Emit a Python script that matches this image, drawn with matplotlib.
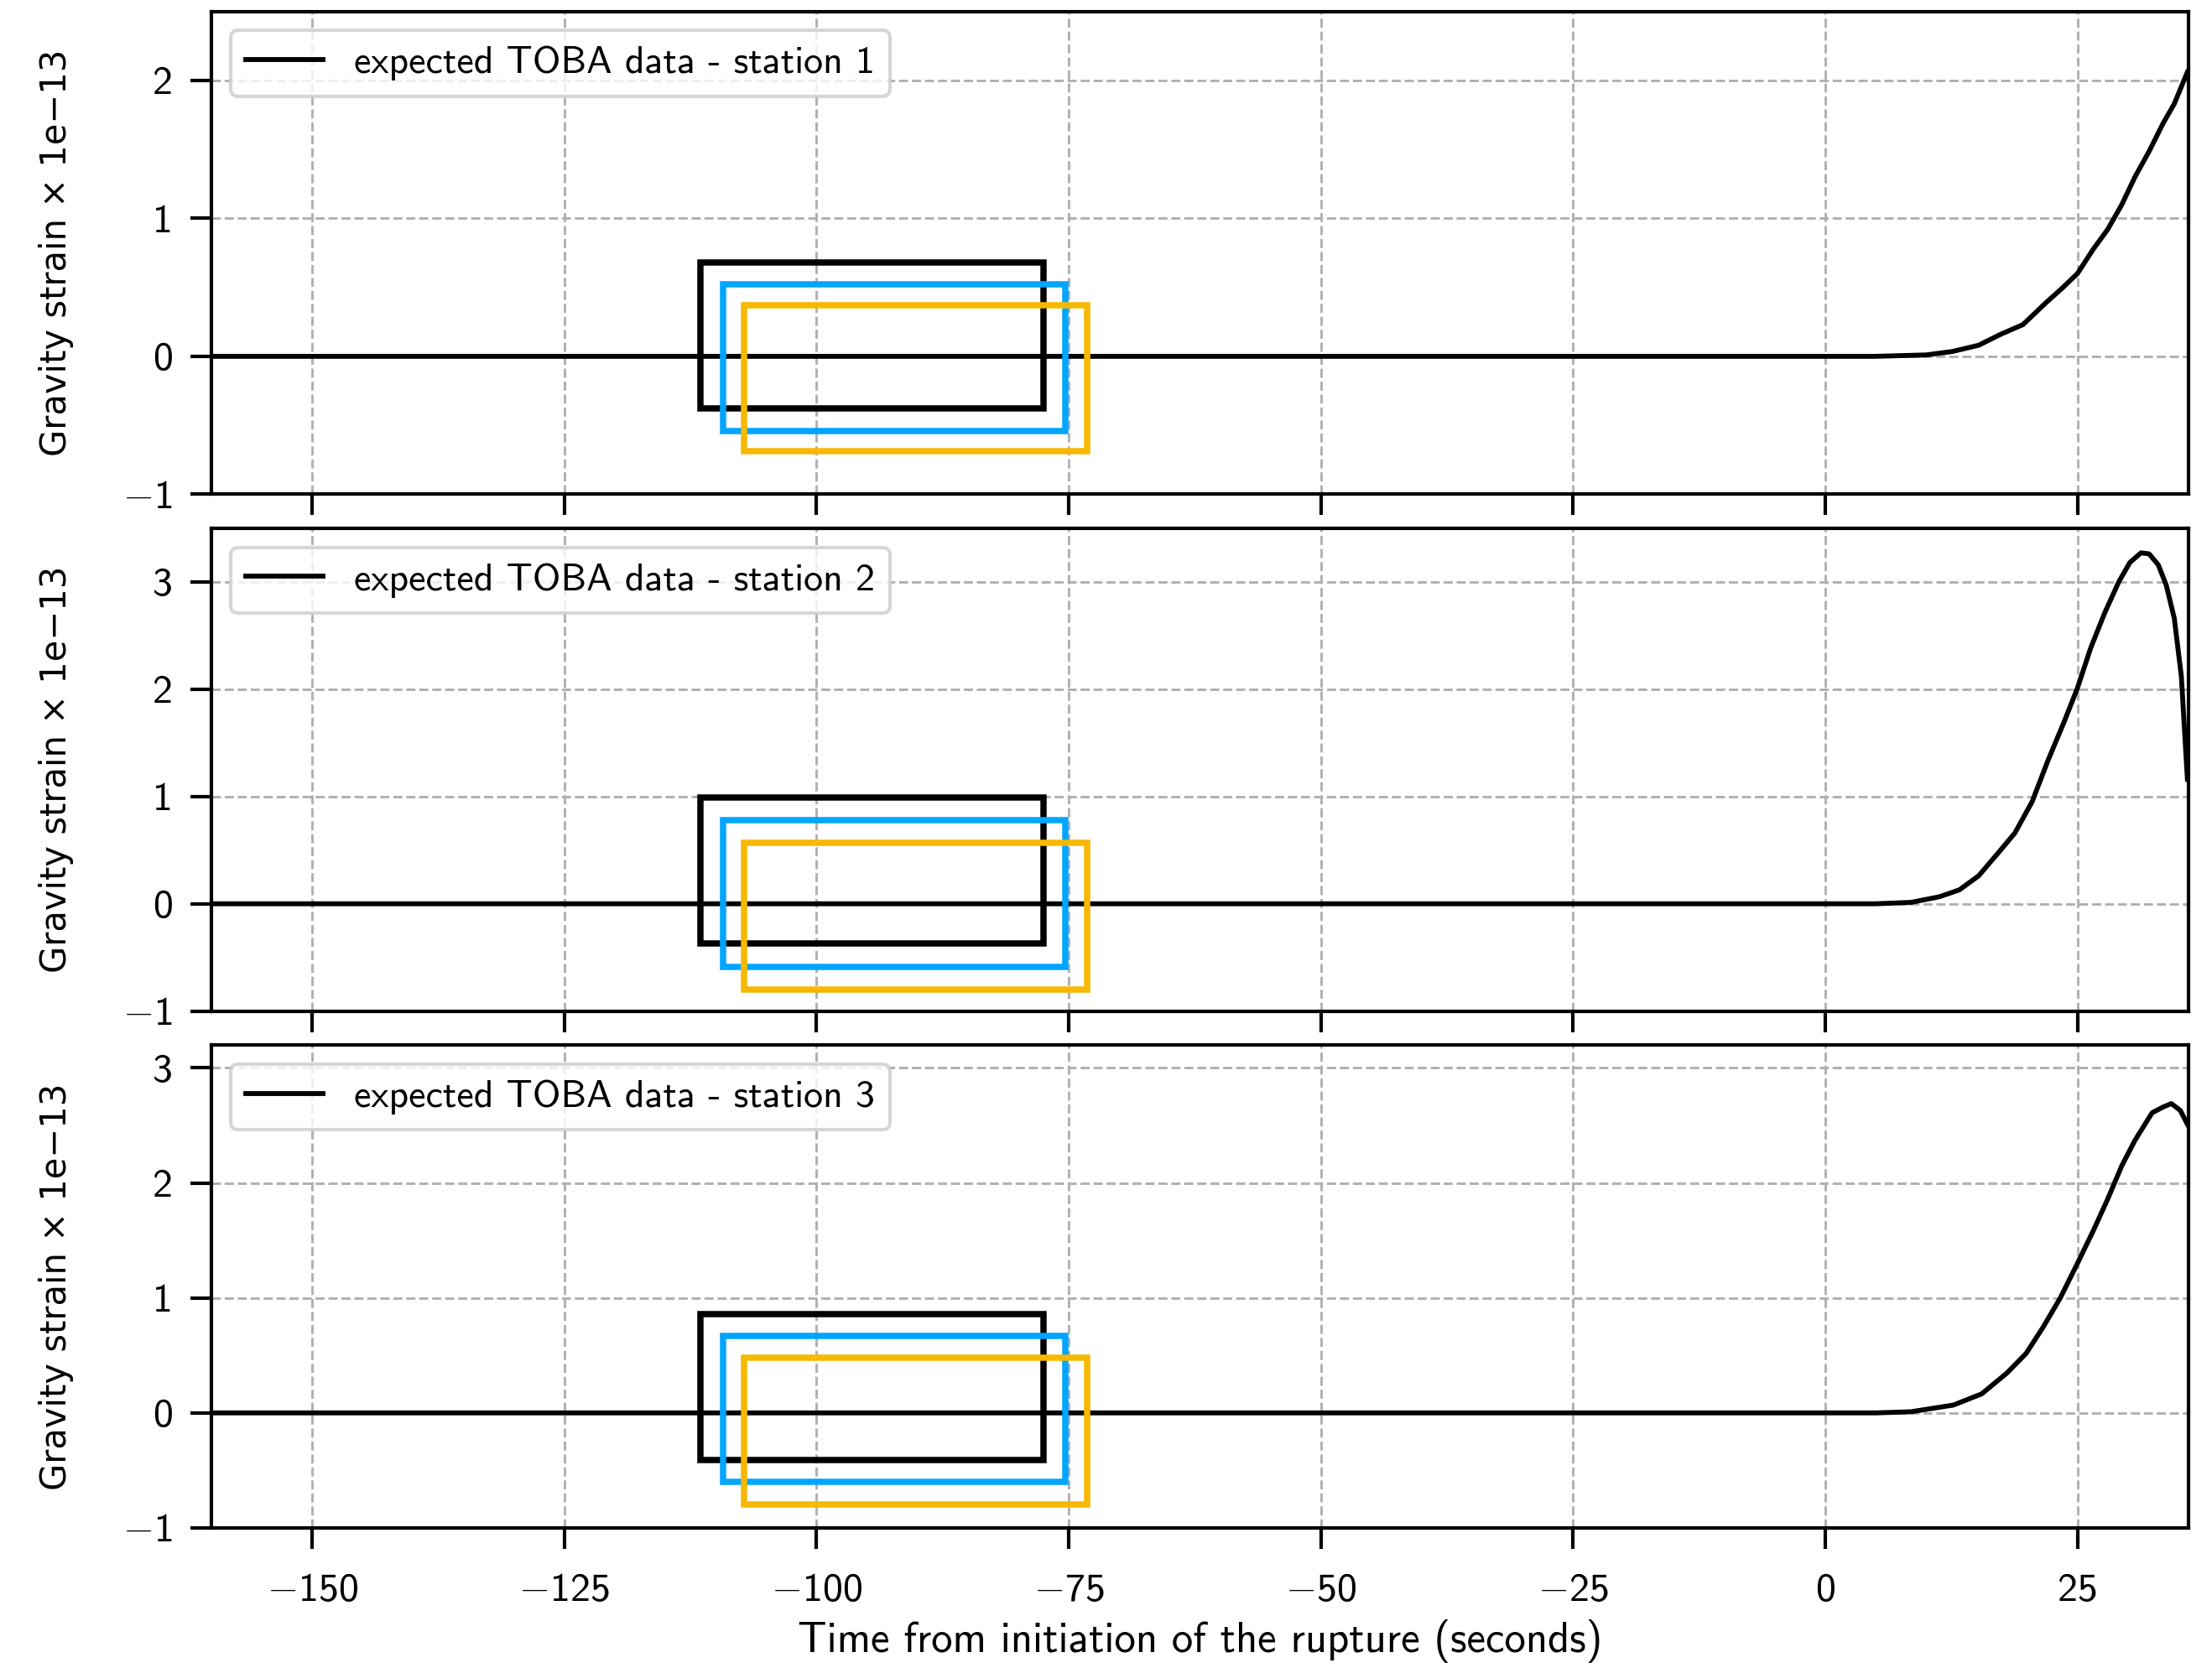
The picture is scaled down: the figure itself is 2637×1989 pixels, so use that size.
import matplotlib.pyplot as plt
from matplotlib.patches import Rectangle
from matplotlib.ticker import FuncFormatter

plt.rcParams['font.family'] = 'cmss10'
plt.rcParams['mathtext.fontset'] = 'cm'

# expected gravity strain (x 1e-13) at each station, quiet part then the rupture signal
t1 = [-160, -150, -140, -130, -120, -110, -100, -90, -80, -70, -60, -50, -40, -30, -20, -10,
      0, 5, 10, 12.6, 15.2, 17.4, 19.6, 21.9, 23.5, 25.0, 26.6, 28.0, 29.4, 30.7, 32.1,
      33.5, 34.6, 35.9]
s1 = [0.0, 0.0, 0.0, 0.0, 0.0, 0.0, 0.0, 0.0, 0.0, 0.0, 0.0, 0.0, 0.0, 0.0, 0.0, 0.0,
      0.0, 0.0, 0.01, 0.035, 0.08, 0.16, 0.23, 0.39, 0.495, 0.60, 0.78, 0.92, 1.10, 1.30, 1.485,
      1.69, 1.83, 2.06]

t2 = [-160, -150, -140, -130, -120, -110, -100, -90, -80, -70, -60, -50, -40, -30, -20, -10,
      0, 5, 8.5, 11.3, 13.3, 15.2, 17.2, 18.8, 20.5, 22.1, 23.7, 25.0, 26.3, 27.7, 29.1, 30.2,
      31.3, 32.1, 33.0, 33.8, 34.6, 35.3, 35.9]
s2 = [0.0, 0.0, 0.0, 0.0, 0.0, 0.0, 0.0, 0.0, 0.0, 0.0, 0.0, 0.0, 0.0, 0.0, 0.0, 0.0,
      0.0, 0.0, 0.013, 0.065, 0.13, 0.26, 0.48, 0.66, 0.95, 1.34, 1.70, 2.01, 2.38, 2.71, 3.00, 3.18,
      3.27, 3.26, 3.16, 2.97, 2.66, 2.12, 1.16]

t3 = [-160, -150, -140, -130, -120, -110, -100, -90, -80, -70, -60, -50, -40, -30, -20, -10,
      0, 5, 8.5, 12.7, 15.5, 18.0, 19.9, 21.6, 23.3, 25.0, 26.6, 28.0, 29.4, 30.7, 32.4,
      33.5, 34.3, 35.2, 35.9]
s3 = [0.0, 0.0, 0.0, 0.0, 0.0, 0.0, 0.0, 0.0, 0.0, 0.0, 0.0, 0.0, 0.0, 0.0, 0.0, 0.0,
      0.0, 0.0, 0.01, 0.068, 0.165, 0.346, 0.516, 0.746, 1.0, 1.30, 1.59, 1.86, 2.15, 2.37, 2.61,
      2.66, 2.69, 2.63, 2.51]

# time windows marked on each panel: start times, common length, (bottom, top) per panel
box_start = [-111.5, -109.3, -107.2]
box_len = 34.0
box_colors = ['black', '#00a5ff', '#f7b801']
box_y1 = [(-0.38, 0.68), (-0.54, 0.52), (-0.69, 0.37)]
box_y2 = [(-0.37, 0.99), (-0.59, 0.78), (-0.80, 0.57)]
box_y3 = [(-0.41, 0.86), (-0.60, 0.67), (-0.80, 0.48)]

stations = [(t1, s1, box_y1, (-1, 2.5), [-1, 0, 1, 2]),
            (t2, s2, box_y2, (-1, 3.5), [-1, 0, 1, 2, 3]),
            (t3, s3, box_y3, (-1, 3.2), [-1, 0, 1, 2, 3])]


def tick_fmt(v, pos):
    # cmss10 has no minus glyph, take it from the math font
    if v < 0:
        return r'$-$%g' % -v
    return '%g' % v


fig, axes = plt.subplots(3, 1, sharex=True, figsize=(8.793, 6.63), dpi=300)
fig.subplots_adjust(left=0.0955, right=0.989, top=0.9932, bottom=0.084, hspace=0.07)

for k, (ax, (t, s, boxes, ylim, yt)) in enumerate(zip(axes, stations)):
    ax.plot(t, s, color='black', lw=1.4, label='expected TOBA data - station %d' % (k + 1))
    for x0, c, (yb, yt_) in zip(box_start, box_colors, boxes):
        ax.add_patch(Rectangle((x0, yb), box_len, yt_ - yb, fill=False,
                               edgecolor=c, lw=1.8, zorder=3))
    ax.set_xlim(-160, 36)
    ax.set_ylim(*ylim)
    ax.set_yticks(yt)
    ax.yaxis.set_major_formatter(FuncFormatter(tick_fmt))
    ax.grid(True, ls='--', color='#b0b0b0', lw=0.7)
    ax.tick_params(labelsize=11.5, length=6, width=1, pad=5)
    for sp in ax.spines.values():
        sp.set_linewidth(1.0)
    ax.set_ylabel('Gravity strain × 1e−13', family='DejaVu Sans', fontsize=10, labelpad=14)
    ax.legend(loc='upper left', fontsize=11, handlelength=2.0)

axes[-1].set_xticks([-150, -125, -100, -75, -50, -25, 0, 25])
axes[-1].xaxis.set_major_formatter(FuncFormatter(tick_fmt))
axes[-1].tick_params(axis='x', pad=7)
axes[-1].set_xlabel('Time from initiation of the rupture (seconds)', fontsize=12.2, labelpad=3)

fig.savefig('out.png', dpi=300)
